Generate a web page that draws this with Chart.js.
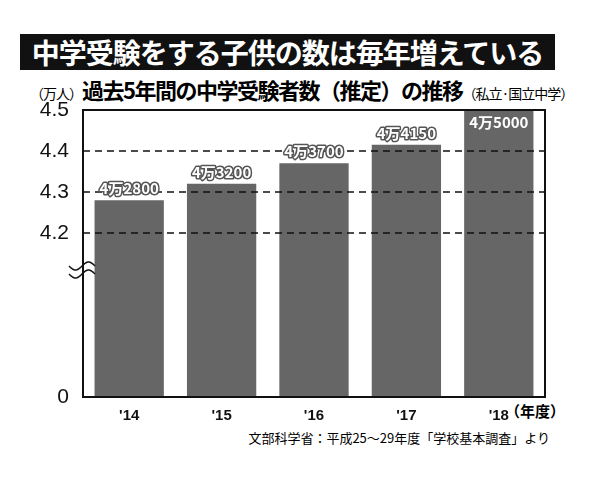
<!DOCTYPE html>
<html><head><meta charset="utf-8">
<script src="https://cdn.jsdelivr.net/npm/chart.js@4"></script>
<style>
body{margin:0;background:#fff;font-family:"Noto Sans CJK JP",sans-serif}
#wrap{position:relative;width:600px;height:477px}
#title{position:absolute;left:20px;top:34px;width:535px;height:36px;background:#111;color:#fff;font-weight:bold;font-size:28px;line-height:36px;text-align:center;letter-spacing:-1px}
#sub{position:absolute;left:30px;top:73px;font-size:22px;font-weight:bold;white-space:nowrap;letter-spacing:-1.5px}
#sub small{font-size:14px;font-weight:normal;letter-spacing:-1px}
#src{position:absolute;right:50px;top:428px;font-size:13px;white-space:nowrap}
#unit{position:absolute;left:505px;top:400px;font-size:15px;font-weight:bold}
canvas{position:absolute;left:0;top:0}
</style></head><body>
<div id="wrap">
<div id="title">中学受験をする子供の数は毎年増えている</div>
<div id="sub"><small>（万人）</small>過去5年間の中学受験者数（推定）の推移<small>（私立·国立中学）</small></div>
<div id="unit">（年度）</div>
<div id="src">文部科学省：平成25～29年度「学校基本調査」より</div>
<canvas id="c" width="600" height="477"></canvas>
</div>
<script>
const years = ["'14", "'15", "'16", "'17", "'18"];
const examinees = [4.28, 4.32, 4.37, 4.415, 4.50];
const barLabels = ["4万2800", "4万3200", "4万3700", "4万4150", "4万5000"];
const tickValues = [0, 4.2, 4.3, 4.4, 4.5];

// axis is broken: 0 to 4.2 squeezed, above 4.2 one unit per 0.1
const toAxis = v => v <= 0 ? 0 : (v - 4.2) * 10 + 4;

const overlay = {
  id: 'overlay',
  afterDatasetsDraw(chart) {
    const {ctx, chartArea: a, scales: {y}} = chart;
    ctx.save();
    ctx.strokeStyle = '#111';
    ctx.setLineDash([7, 5]);
    ctx.lineWidth = 1.3;
    [4.2, 4.3, 4.4].forEach(t => {
      const py = y.getPixelForValue(toAxis(t));
      ctx.beginPath(); ctx.moveTo(a.left, py); ctx.lineTo(a.right, py); ctx.stroke();
    });
    ctx.setLineDash([]);
    ctx.lineWidth = 2;
    ctx.strokeRect(a.left, a.top, a.right - a.left, a.bottom - a.top);
    // break mark
    ctx.lineWidth = 1.5;
    [0, 8].forEach(d => {
      ctx.beginPath();
      for (let i = 0; i <= 26; i++) {
        const px = a.left - 14 + i, py = 266 + d + Math.sin(i / 26 * Math.PI * 2) * 4;
        i ? ctx.lineTo(px, py) : ctx.moveTo(px, py);
      }
      ctx.stroke();
    });
    // value labels
    ctx.font = 'bold 15px "Noto Sans CJK JP"';
    ctx.textAlign = 'center';
    ctx.lineJoin = 'round';
    chart.getDatasetMeta(0).data.forEach((bar, i) => {
      const inside = i === barLabels.length - 1;
      const py = inside ? bar.y + 18 : bar.y - 6;
      ctx.lineWidth = 3;
      ctx.strokeStyle = inside ? '#666' : '#555';
      ctx.strokeText(barLabels[i], bar.x, py);
      ctx.fillStyle = '#fff';
      ctx.fillText(barLabels[i], bar.x, py);
    });
    ctx.restore();
  }
};

new Chart(document.getElementById('c'), {
  type: 'bar',
  data: {
    labels: years,
    datasets: [{ data: examinees.map(toAxis), backgroundColor: '#666', categoryPercentage: 0.75, barPercentage: 1 }]
  },
  options: {
    responsive: false, animation: false,
    layout: { padding: { left: 0, top: 110, right: 55, bottom: 50 } },
    plugins: { legend: { display: false }, tooltip: { enabled: false } },
    scales: {
      x: {
        grid: { display: false }, border: { display: false },
        ticks: { color: '#111', font: { size: 15, weight: 'bold' }, padding: 2 },
        afterFit: s => { s.height = 30; }
      },
      y: {
        min: 0, max: 7,
        grid: { display: false }, border: { display: false },
        afterBuildTicks: s => { s.ticks = tickValues.map(v => ({ value: toAxis(v) })); },
        ticks: {
          color: '#111', font: { size: 21 }, padding: 6,
          callback: (v, i) => i === 0 ? '0' : tickValues[i].toFixed(1)
        },
        afterFit: s => { s.width = 83; }
      }
    }
  },
  plugins: [overlay]
});
</script>
</body></html>
